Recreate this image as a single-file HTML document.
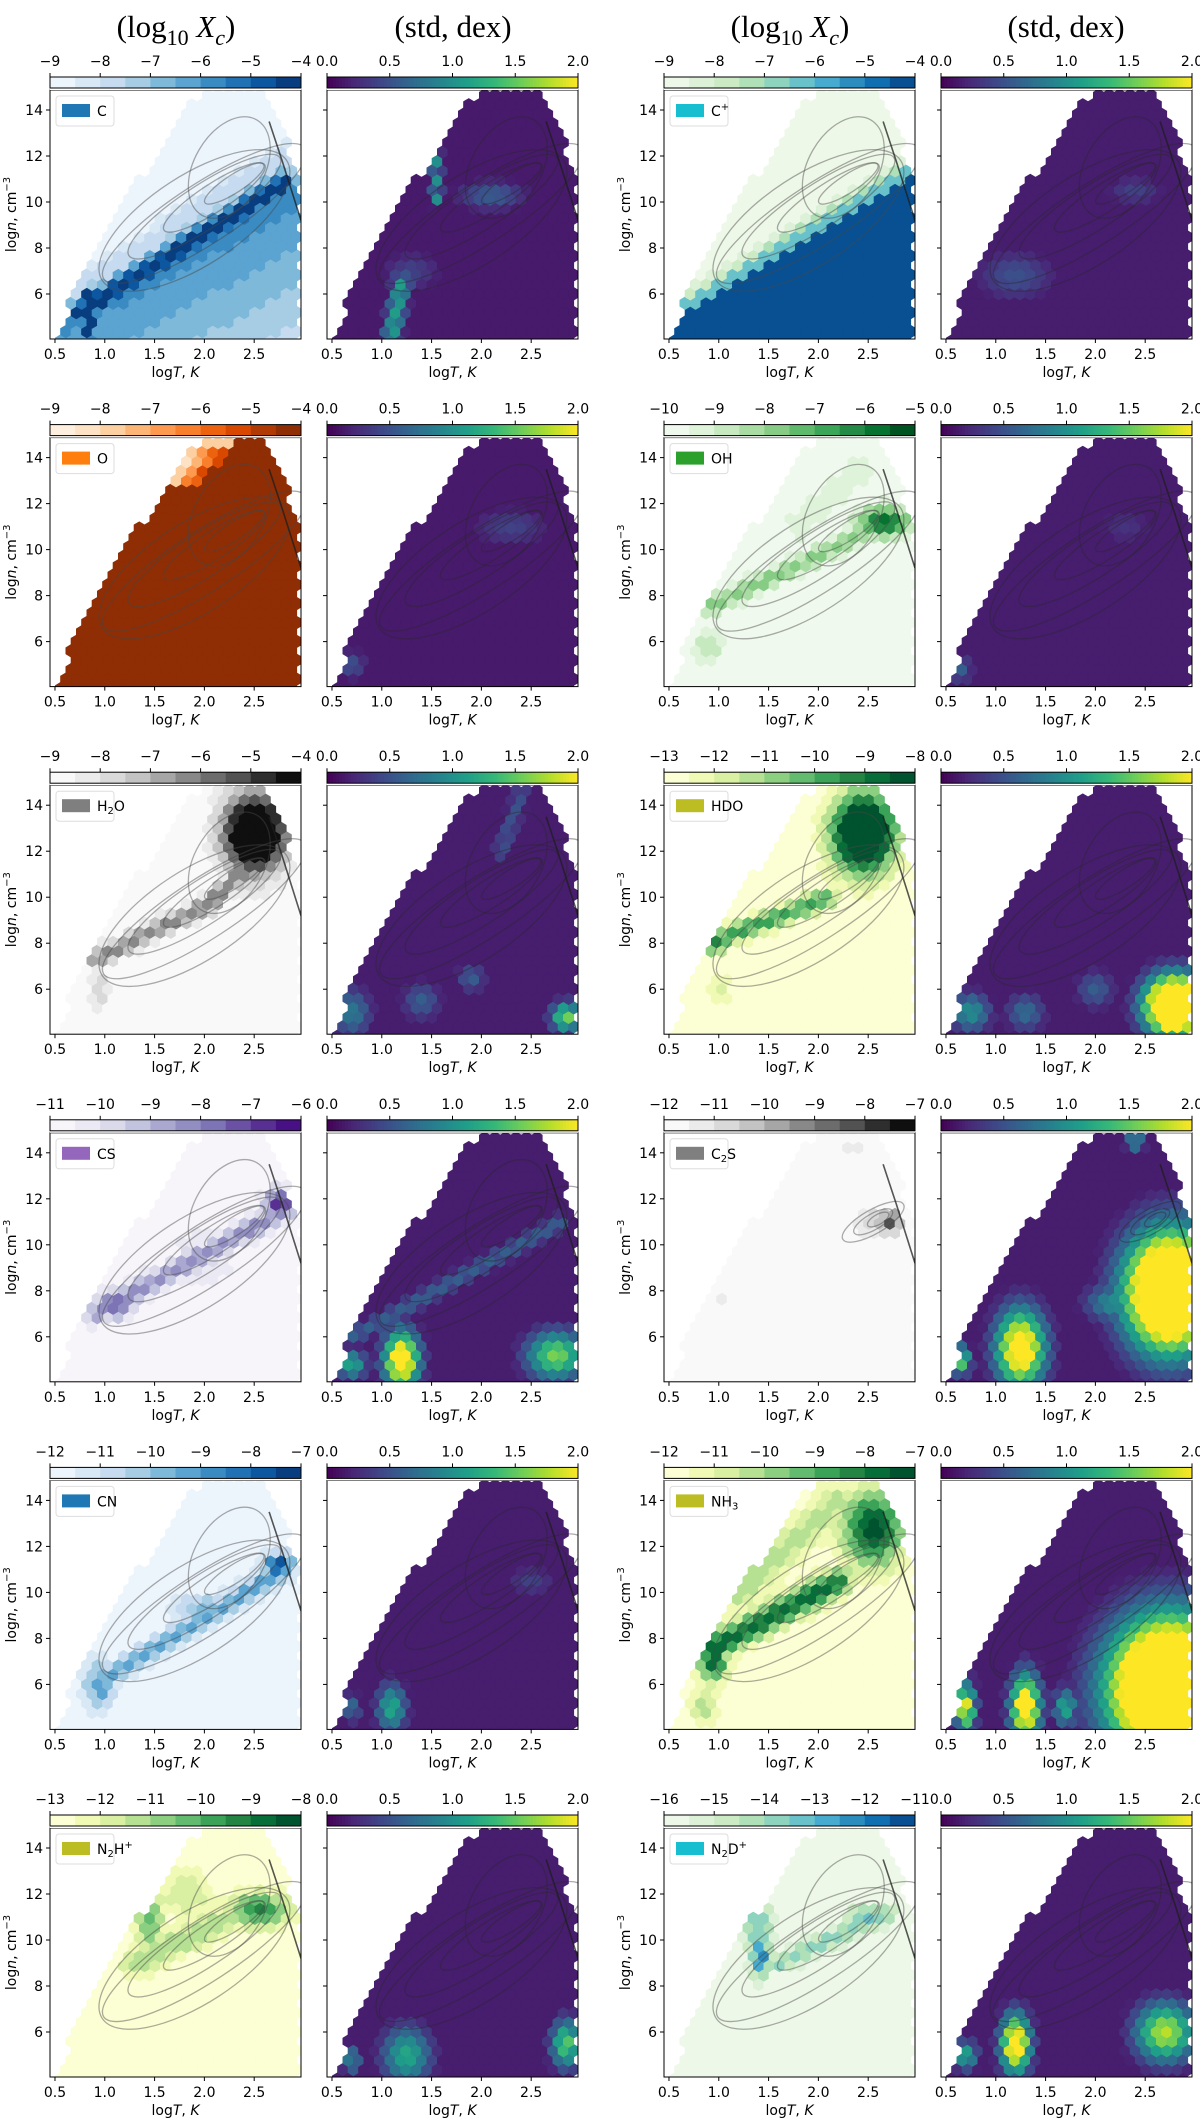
<!DOCTYPE html>
<html><head><meta charset="utf-8"><style>
html,body{margin:0;padding:0;background:#fff;}
svg{display:block;font-family:"DejaVu Sans","Liberation Sans",sans-serif;}
.tk{font-size:14px;fill:#000;}
.ttl{font-family:"Liberation Serif","DejaVu Serif",serif;font-size:31px;}
</style></head><body>
<svg id="fig" width="1200" height="2128" viewBox="0 0 1200 2128" xmlns="http://www.w3.org/2000/svg">
<text class="ttl" x="176" y="37" text-anchor="middle">(log<tspan font-size="22" dy="8">10</tspan><tspan dy="-8"> </tspan><tspan font-style="italic">X</tspan><tspan font-style="italic" font-size="22" dy="8">c</tspan><tspan dy="-8">)</tspan></text>
<text class="ttl" x="453" y="37" text-anchor="middle">(std, dex)</text>
<text class="ttl" x="790" y="37" text-anchor="middle">(log<tspan font-size="22" dy="8">10</tspan><tspan dy="-8"> </tspan><tspan font-style="italic">X</tspan><tspan font-style="italic" font-size="22" dy="8">c</tspan><tspan dy="-8">)</tspan></text>
<text class="ttl" x="1066" y="37" text-anchor="middle">(std, dex)</text>
</svg>
<script>
// ---- data arrays ----
var species = ["C","C+","O","OH","H2O","HDO","CS","C2S","CN","NH3","N2H+","N2D+"];
var cbarMin = [-9,-9,-9,-10,-9,-13,-11,-12,-12,-12,-13,-16];
var cmapNames = ["Blues","GnBu","Oranges","Greens","Greys","YlGn","Purples","Greys","Blues","YlGn","YlGn","GnBu"];
var legendColors = ["#1f77b4","#17becf","#ff7f0e","#2ca02c","#7f7f7f","#bcbd22","#9467bd","#7f7f7f","#1f77b4","#bcbd22","#bcbd22","#17becf"];
var xTicks = [0.5,1.0,1.5,2.0,2.5];
var yTicks = [6,8,10,12,14];
var stdTicks = [0.0,0.5,1.0,1.5,2.0];
var envT = [0.55,0.6,0.68,0.95,1.2,1.5,1.72,1.85,2.05,2.55,2.7,2.85,2.97,2.97];
var envN = [4.0,5.0,6.5,8.0,10.0,12.0,13.5,14.5,14.85,14.85,14.0,12.3,10.3,4.0];
var abBase = [0.04,0.05,0.12,0.04,0,0.05,0.04,0,0.04,0.04,0.05,0.03];
var abBelow = [
 [[0.6,5.0,2.97,10.6,0.65,0.3]],
 [[0.55,5.0,2.97,11.2,0.95,0]],
 [[0.5,5.0,1.95,12.8,1.0,0],[1.95,12.8,2.97,12.0,1.0,0]],
 [],[],[],[],[],[],[],[],[]];
var abSeg = [
 [[0.75,5.2,2.8,10.8,14,1.0],[0.85,4.2,0.85,6,10,1.0],[0.7,6.2,2.8,12,14,0.3]],
 [[0.6,5.2,2.9,11.2,12,0.6]],
 [[0.7,6.5,1.9,13.2,14,0.55],[1.95,13.2,2.5,14.2,14,0.75]],
 [[0.9,7.5,2.6,11,10,0.45],[1.8,11,2.4,13.5,15,0.2]],
 [[0.9,7.3,2.1,9.8,10,0.55],[2.1,10,2.5,11.5,10,0.6]],
 [[0.9,8,2.1,10,10,0.65]],
 [[0.9,7,2.8,11.5,11,0.55]],
 [],
 [[0.9,6,2.8,11,11,0.55]],
 [[0.9,7.5,2.2,10.5,14,0.85],[1.2,10,2.2,14,20,0.35]],
 [[1.3,9,2.5,11.5,15,0.4]],
 [[1.6,9,2.7,11.2,10,0.45]]];
var abBlob = [
 [],[],
 [[2.2,14,30,15,0.8]],
 [[2.65,11.2,25,15,0.95],[0.85,7.6,10,10,0.6],[0.9,5.8,15,20,0.3]],
 [[2.5,12.8,30,38,1.6],[0.95,6,12,20,0.3]],
 [[2.45,12.8,30,38,1.6],[1.0,6,12,20,0.25],[0.95,8,12,12,0.8]],
 [[1.1,7.4,20,14,0.75],[2.75,11.8,15,15,0.9],[2.0,9.5,30,30,0.25]],
 [[2.72,11,12,12,0.75],[2.55,11,15,15,0.3],[2.35,14.3,6,8,0.25],[1.05,7.5,12,15,0.12]],
 [[2.75,11.2,15,12,0.95],[0.95,6,15,25,0.6],[2.0,9.3,30,15,0.45]],
 [[2.55,12.8,30,38,1.0],[0.95,7,15,20,0.9],[0.85,5,15,20,0.35]],
 [[2.55,11.3,30,18,0.75],[1.45,10.8,15,35,0.55],[1.8,12,30,25,0.3]],
 [[1.42,9.3,10,22,0.85],[1.4,10.5,15,35,0.5],[2.5,11,22,12,0.55]]];
var sdBase = [0.07,0.08,0.07,0.08,0.08,0.08,0.08,0.08,0.08,0.08,0.08,0.08];
var sdSeg = [
 [[1.1,4.2,1.2,6.5,10,0.55],[1.55,10,1.55,12,6,0.5]],
 [],[],[],
 [[2.2,12,2.4,14.5,10,0.25]],
 [],
 [[0.7,6,2.8,11,10,0.3]],
 [],[],[],[],[]];
var sdBlob = [
 [[2.1,10.3,35,15,0.3],[1.3,7,30,20,0.2]],
 [[1.2,6.8,40,25,0.25],[2.4,10.5,30,15,0.2]],
 [[2.3,11,40,20,0.2],[0.7,5,15,15,0.25]],
 [[0.65,4.8,12,15,0.3],[2.3,11,30,20,0.15]],
 [[0.7,5,20,25,0.4],[1.4,5.5,20,20,0.3],[2.85,4.8,15,15,0.8],[1.9,6.5,15,15,0.3]],
 [[2.8,5.3,30,30,1.8],[0.75,5,20,20,0.5],[1.3,5,20,20,0.35],[2.0,6,20,20,0.3]],
 [[1.2,5,18,30,1.2],[2.75,5.2,30,25,0.8],[0.7,4.8,15,15,0.6]],
 [[2.75,8,45,60,1.8],[2.2,7.5,30,20,0.5],[1.25,5.5,25,40,1.2],[0.65,5,10,15,0.8],[2.5,10.5,30,12,0.4],[2.4,14.5,10,10,0.5]],
 [[1.1,5,15,25,0.6],[0.7,5,10,15,0.35],[2.5,10.5,25,15,0.2]],
 [[2.75,5.8,60,70,2.0],[1.3,5,15,35,1.2],[0.7,5,10,25,1.0],[1.7,5,12,20,0.6]],
 [[1.25,5,25,30,0.6],[2.85,5.5,15,25,0.75],[0.7,4.8,10,15,0.45]],
 [[1.2,5.5,15,30,1.2],[2.7,6,30,30,0.9],[0.7,5,12,15,0.6]]];
var contours = [
 [2.0,9.5,120,30,-33],[2.0,9.8,90,22,-33],[2.1,10.2,60,14,-33],[2.3,10.8,35,9,-33],
 [1.9,9.2,110,45,-33],[2.25,11.5,55,35,-60]];
var contC2S = [[2.55,11.0,35,12,-30],[2.55,11.0,22,8,-30],[2.6,11.1,12,5,-30]];

var cmaps = {
 Blues:["#f7fbff","#deebf7","#c6dbef","#9ecae1","#6baed6","#4292c6","#2171b5","#08519c","#08306b"],
 Oranges:["#fff5eb","#fee6ce","#fdd0a2","#fdae6b","#fd8d3c","#f16913","#d94801","#a63603","#7f2704"],
 Greys:["#ffffff","#f0f0f0","#d9d9d9","#bdbdbd","#969696","#737373","#525252","#252525","#000000"],
 Greens:["#f7fcf5","#e5f5e0","#c7e9c0","#a1d99b","#74c476","#41ab5d","#238b45","#006d2c","#00441b"],
 Purples:["#fcfbfd","#efedf5","#dadaeb","#bcbddc","#9e9ac8","#807dba","#6a51a3","#54278f","#3f007d"],
 YlGn:["#ffffe5","#f7fcb9","#d9f0a3","#addd8e","#78c679","#41ab5d","#238443","#006837","#004529"],
 GnBu:["#f7fcf0","#e0f3db","#ccebc5","#a8ddb5","#7bccc4","#4eb3d3","#2b8cbe","#0868ac","#084081"],
 viridis:["#440154","#482878","#3e4989","#31688e","#26828e","#1f9e89","#35b779","#6ece58","#b5de2b","#fde725"]};

function hex2rgb(h){return [parseInt(h.substr(1,2),16),parseInt(h.substr(3,2),16),parseInt(h.substr(5,2),16)];}
function sample(name,t){var c=cmaps[name];t=Math.max(0,Math.min(1,t));var f=t*(c.length-1);var i=Math.min(Math.floor(f),c.length-2);var u=f-i;
 var a=hex2rgb(c[i]),b=hex2rgb(c[i+1]);return 'rgb('+Math.round(a[0]+(b[0]-a[0])*u)+','+Math.round(a[1]+(b[1]-a[1])*u)+','+Math.round(a[2]+(b[2]-a[2])*u)+')';}

var SVGNS="http://www.w3.org/2000/svg";
var figEl=document.getElementById('fig');
function mk(tag,attrs,parent){var e=document.createElementNS(SVGNS,tag);for(var k in attrs)e.setAttribute(k,attrs[k]);(parent||figEl).appendChild(e);return e;}
function addSpan(parent,txt,attrs){var s=mk('tspan',attrs||{},parent);s.textContent=txt;return s;}

var colX=[50,327,664,941], PW=251, PH=249, ROW=347.6;
var T0=0.45, N1=14.87, PXT=PW/2.52, PXN=23;

function inEnv(T,n){var c=false;for(var i=0,j=envT.length-1;i<envT.length;j=i++){
 if(((envN[i]>n)!=(envN[j]>n))&&(T<(envT[j]-envT[i])*(n-envN[i])/(envN[j]-envN[i])+envT[i]))c=!c;}return c;}

function field(T,n,base,below,segs,blobs){
 var v=base, px=T*PXT, py=-n*PXN, i;
 for(i=0;i<below.length;i++){var b=below[i];var x1=b[0]*PXT,y1=-b[1]*PXN,x2=b[2]*PXT,y2=-b[3]*PXN;
  var dx=x2-x1,dy=y2-y1,Ln=Math.hypot(dx,dy);var sd=-((px-x1)*dy-(py-y1)*dx)/Ln;
  if(sd>0)v=Math.max(v,b[4]-b[5]*sd/100);}
 for(i=0;i<segs.length;i++){var s=segs[i];var sx1=s[0]*PXT,sy1=-s[1]*PXN,sx2=s[2]*PXT,sy2=-s[3]*PXN;
  var ddx=sx2-sx1,ddy=sy2-sy1;var t=((px-sx1)*ddx+(py-sy1)*ddy)/((ddx*ddx+ddy*ddy)||1);t=Math.max(0,Math.min(1,t));
  var d=Math.hypot(px-(sx1+t*ddx),py-(sy1+t*ddy));v=Math.max(v,s[5]*Math.exp(-(d/s[4])*(d/s[4])));}
 for(i=0;i<blobs.length;i++){var q=blobs[i];var ex=(px-q[0]*PXT)/q[2], ey=(py+q[1]*PXN)/q[3];v=Math.max(v,q[4]*Math.exp(-(ex*ex+ey*ey)));}
 return Math.min(1,v);}

function legendLabel(lt,name){
 if(name==='C+'){addSpan(lt,'C');addSpan(lt,'+',{'font-size':'10',dy:'-6'});}
 else if(name==='H2O'){addSpan(lt,'H');addSpan(lt,'2',{'font-size':'10',dy:'3'});addSpan(lt,'O',{dy:'-3'});}
 else if(name==='C2S'){addSpan(lt,'C');addSpan(lt,'2',{'font-size':'10',dy:'3'});addSpan(lt,'S',{dy:'-3'});}
 else if(name==='NH3'){addSpan(lt,'NH');addSpan(lt,'3',{'font-size':'10',dy:'3'});}
 else if(name==='N2H+'){addSpan(lt,'N');addSpan(lt,'2',{'font-size':'10',dy:'3'});addSpan(lt,'H',{dy:'-3'});addSpan(lt,'+',{'font-size':'10',dy:'-6'});}
 else if(name==='N2D+'){addSpan(lt,'N');addSpan(lt,'2',{'font-size':'10',dy:'3'});addSpan(lt,'D',{dy:'-3'});addSpan(lt,'+',{'font-size':'10',dy:'-6'});}
 else addSpan(lt,name);
}

function drawPanel(r,c,k,isStd){
 var L=colX[c], tp=90+r*ROW, g=mk('g',{});
 
 
 var cid='clip'+r+'_'+c;
 var cp=mk('clipPath',{id:cid},g);mk('rect',{x:L,y:tp,width:PW,height:PH},cp);
 var hexG=mk('g',{'clip-path':'url(#'+cid+')'},g);
 
 
 var hw=10.5, hh=12.6, hdy=hh*0.75, levels=10;
 var offs=[[0,-hh/2],[hw/2,-hh/4],[hw/2,hh/4],[0,hh/2],[-hw/2,hh/4],[-hw/2,-hh/4]];
 for(var j=-1;j<32;j++){var cy=tp+PH-j*hdy+2; if(cy<tp-hh)break;
  for(var i=-1;i<27;i++){var cx=L+i*hw+(((j%2)+2)%2)*hw/2;
   var T=T0+(cx-L)/PXT, n=N1-(cy-tp)/PXN;
   if(!inEnv(T,Math.max(n,4.05)))continue;
   var col;
   if(isStd){col=sample('viridis',field(T,n,sdBase[k],[],sdSeg[k],sdBlob[k]));}
   else{var v=field(T,n,abBase[k],abBelow[k],abSeg[k],abBlob[k]);var qq=Math.min(levels-1,Math.floor(v*levels));col=sample(cmapNames[k],(qq+0.5)/levels);}
   var pts=offs.map(function(a){return (cx+a[0]).toFixed(1)+','+(cy+a[1]).toFixed(1);}).join(' ');
   mk('polygon',{points:pts,fill:col,stroke:col,'stroke-width':0.6},hexG);}}
 var cg=mk('g',{'clip-path':'url(#'+cid+')',fill:'none',stroke:isStd?'rgba(40,40,40,0.4)':'rgba(70,70,70,0.45)','stroke-width':1.3},g);
 
 
 var cs=(k===7)?contC2S:contours;
 cs.forEach(function(e){var ex=L+(e[0]-T0)*PXT, ey=tp+(N1-e[1])*PXN;
  mk('ellipse',{cx:ex,cy:ey,rx:e[2],ry:e[3],transform:'rotate('+e[4]+' '+ex+' '+ey+')'},cg);});
 mk('polyline',{points:(L+(2.65-T0)*PXT)+','+(tp+(N1-13.5)*PXN)+' '+(L+(2.78-T0)*PXT)+','+(tp+(N1-11.8)*PXN)+' '+(L+PW)+','+(tp+(N1-9.2)*PXN),stroke:'rgba(30,30,30,0.75)','stroke-width':1.6},cg);
 var fr=mk('rect',{x:L,y:tp,width:PW,height:PH,fill:'none',stroke:'#000','stroke-width':1},g);
 
 
 xTicks.forEach(function(t){var x=L+(t-T0)*PXT;mk('line',{x1:x,y1:tp+PH,x2:x,y2:tp+PH+4,stroke:'#000'},g);
  var tx=mk('text',{x:x,y:tp+PH+20,'text-anchor':'middle','class':'tk'},g);tx.textContent=t.toFixed(1);
  
  });
 var xl=mk('text',{x:L+PW/2,y:tp+PH+38,'text-anchor':'middle','class':'tk'},g);
 addSpan(xl,'log');addSpan(xl,'T',{'font-style':'italic'});addSpan(xl,', ');addSpan(xl,'K',{'font-style':'italic'});
 
 
 yTicks.forEach(function(t){var y=tp+(N1-t)*PXN;mk('line',{x1:L-4,y1:y,x2:L,y2:y,stroke:'#000'},g);
  if(!isStd){var ty=mk('text',{x:L-7,y:y+5,'text-anchor':'end','class':'tk'},g);ty.textContent=String(t);
   
   }});
 if(!isStd){
  var yl=mk('text',{x:0,y:0,'text-anchor':'middle','class':'tk',transform:'translate('+(L-34)+','+(tp+PH/2)+') rotate(-90)'},g);
  addSpan(yl,'log');addSpan(yl,'n',{'font-style':'italic'});addSpan(yl,',  cm');addSpan(yl,'\u22123',{'font-size':'10',dy:'-6'});
  
  
  var lg=mk('g',{},g);
  
  
  mk('rect',{x:L+6,y:tp+6,width:58,height:30,rx:3,fill:'rgba(255,255,255,0.85)',stroke:'#ddd'},lg);
  mk('rect',{x:L+12,y:tp+14,width:28,height:13,fill:legendColors[k]},lg);
  var lt=mk('text',{x:L+47,y:tp+26,'class':'tk'},lg);
  legendLabel(lt,species[k]);}
 var cb=mk('g',{},g);
 
 
 var cy0=tp-13, ii;
 mk('rect',{x:L,y:cy0,width:PW,height:13,fill:'#fff'},cb);
 if(isStd){for(ii=0;ii<84;ii++)mk('rect',{x:L+ii*PW/84,y:cy0,width:PW/84+0.5,height:11,fill:sample('viridis',(ii+0.5)/84)},cb);}
 else{for(ii=0;ii<levels;ii++)mk('rect',{x:L+ii*PW/levels,y:cy0,width:PW/levels+0.3,height:11,fill:sample(cmapNames[k],(ii+0.5)/levels)},cb);}
 mk('rect',{x:L,y:cy0,width:PW,height:11,fill:'none',stroke:'#000','stroke-width':1},cb);
 var labs=isStd?stdTicks.map(function(v){return v.toFixed(1);}):[0,1,2,3,4,5].map(function(q){return String(cbarMin[k]+q).replace('-','\u2212');});
 var nT=labs.length;
 labs.forEach(function(s,q){var x=L+q*PW/(nT-1);mk('line',{x1:x,y1:cy0,x2:x,y2:cy0-4,stroke:'#000'},cb);
  var t=mk('text',{x:x,y:cy0-11,'text-anchor':'middle','class':'tk'},cb);t.textContent=s;
  
  });
}
for(var r=0;r<6;r++){
 for(var c=0;c<4;c++){
  try{ drawPanel(r,c,2*r+(c>>1),(c%2)===1); }catch(err){ console.log(err); }
 }
}
</script>
</body></html>
